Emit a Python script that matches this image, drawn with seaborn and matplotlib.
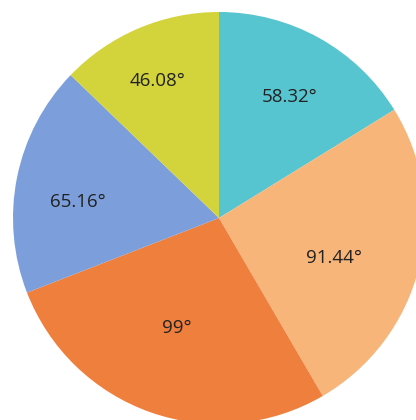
import numpy as np
import matplotlib
matplotlib.use("Agg")
import matplotlib.pyplot as plt
import seaborn as sns

# Sector angles in degrees, clockwise from 12 o'clock
angles = [58.32, 91.44, 99, 65.16, 46.08]
labels = ["58.32°", "91.44°", "99°", "65.16°", "46.08°"]
colors = ["#57C5CF", "#F8B57A", "#EF7F3D", "#7C9FDB", "#D3D43C"]
# label placement: distance from centre (fraction of radius) and angular nudge
label_radius = [0.68, 0.59, 0.57, 0.69, 0.73]
label_nudge = [-1.2, -5.3, -1.6, 4.9, 1.2]

sns.set_theme(style="white")
plt.rcParams["font.family"] = ["Open Sans", "DejaVu Sans"]

fig = plt.figure(figsize=(4.16, 4.20), dpi=100)
fig.patch.set_facecolor("white")
ax = fig.add_axes([13 / 416, -4 / 420, 412 / 416, 412 / 420])

wedges, _ = ax.pie(angles, colors=colors, startangle=90, counterclock=False,
                   radius=1.0, wedgeprops=dict(linewidth=0))

cum = np.cumsum([0] + angles[:-1])
for val, start, txt, r, d in zip(angles, cum, labels, label_radius, label_nudge):
    mid = np.deg2rad(90 - start - val / 2 + d)
    ax.text(r * np.cos(mid), r * np.sin(mid), txt, ha="center", va="center",
            fontsize=13.5, color="#222222")

ax.set_xlim(-1, 1)
ax.set_ylim(-1, 1)
ax.set_aspect("equal")
ax.axis("off")

fig.savefig("out.png", dpi=100, facecolor="white")
